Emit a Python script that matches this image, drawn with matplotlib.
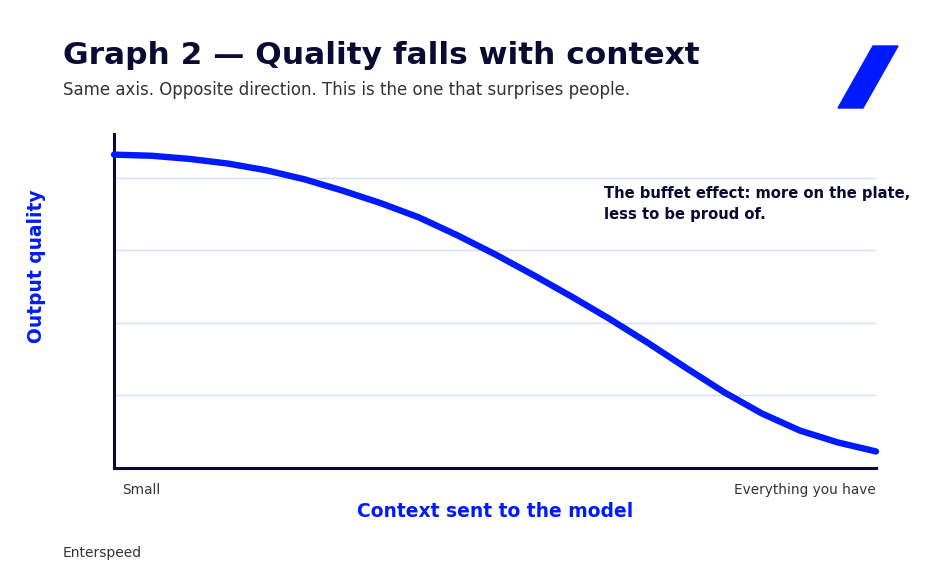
import matplotlib
matplotlib.use("Agg")
import matplotlib.pyplot as plt
from matplotlib.patches import Polygon

plt.rcParams["font.family"] = ["DejaVu Sans"]

# context share (0 = small, 1 = everything you have)
context = [0.0, 0.05, 0.1, 0.15, 0.2, 0.25, 0.3, 0.35, 0.4, 0.45, 0.5,
           0.55, 0.6, 0.65, 0.7, 0.75, 0.8, 0.85, 0.9, 0.95, 1.0]
# output quality
quality = [107.9, 107.5, 106.4, 104.8, 102.5, 99.4, 95.5, 91.2, 86.3, 80.2, 73.6,
           66.5, 59.1, 51.4, 43.2, 34.6, 26.2, 18.8, 12.9, 8.8, 5.7]
grid_levels = [25, 50, 75, 100]
x_labels = ["Small", "Everything you have"]

BLUE = "#001aff"
NAVY = "#0a0a33"
GREY = "#333333"

fig = plt.figure(figsize=(9.38, 5.83), dpi=100)
W, H = 938, 583
ax = fig.add_axes([114 / W, 1 - 468 / H, (876 - 114) / W, (468 - 134) / H])

for g in grid_levels:
    ax.axhline(g, color="#d4defc", lw=1, zorder=1)

ax.plot(context, quality, color=BLUE, lw=4.6, solid_capstyle="round",
        solid_joinstyle="round", zorder=3, clip_on=False)

ax.set_xlim(0, 1)
ax.set_ylim(0, 115)
ax.set_xticks([])
ax.set_yticks([])
for s in ["top", "right"]:
    ax.spines[s].set_visible(False)
for s in ["left", "bottom"]:
    ax.spines[s].set_color(NAVY)
    ax.spines[s].set_linewidth(2.2)

ax.text(0.011, -0.065, x_labels[0], transform=ax.transAxes, ha="left", va="center",
        fontsize=9.8, color=GREY)
ax.text(1.0, -0.065, x_labels[1], transform=ax.transAxes, ha="right", va="center",
        fontsize=9.8, color=GREY)
ax.text(0.5, -0.13, "Context sent to the model", transform=ax.transAxes,
        ha="center", va="center", fontsize=13.5, fontweight="bold", color=BLUE)
fig.text(36 / W, 1 - 266 / H, "Output quality", rotation=90, ha="center", va="center",
         fontsize=13.4, fontweight="bold", color=BLUE)

ax.text(0.643, 0.843, "The buffet effect: more on the plate,\nless to be proud of.",
        transform=ax.transAxes, ha="left", va="top", fontsize=10.6, fontweight="bold",
        color=NAVY, linespacing=1.5, clip_on=False)

fig.text(63 / W, 1 - 55 / H, "Graph 2 \u2014 Quality falls with context", ha="left",
         va="center", fontsize=22.5, fontweight="bold", color=NAVY)
fig.text(63 / W, 1 - 90 / H, "Same axis. Opposite direction. This is the one that surprises people.",
         ha="left", va="center", fontsize=12, color=GREY)
fig.text(63 / W, 1 - 553 / H, "Enterspeed", ha="left", va="center", fontsize=10, color=GREY)

logo = [(838 / W, 1 - 108 / H), (863 / W, 1 - 108 / H), (898 / W, 1 - 46 / H), (873 / W, 1 - 46 / H)]
fig.patches.append(Polygon(logo, closed=True, transform=fig.transFigure, color=BLUE))

fig.savefig("out.png", dpi=100, facecolor="white")
